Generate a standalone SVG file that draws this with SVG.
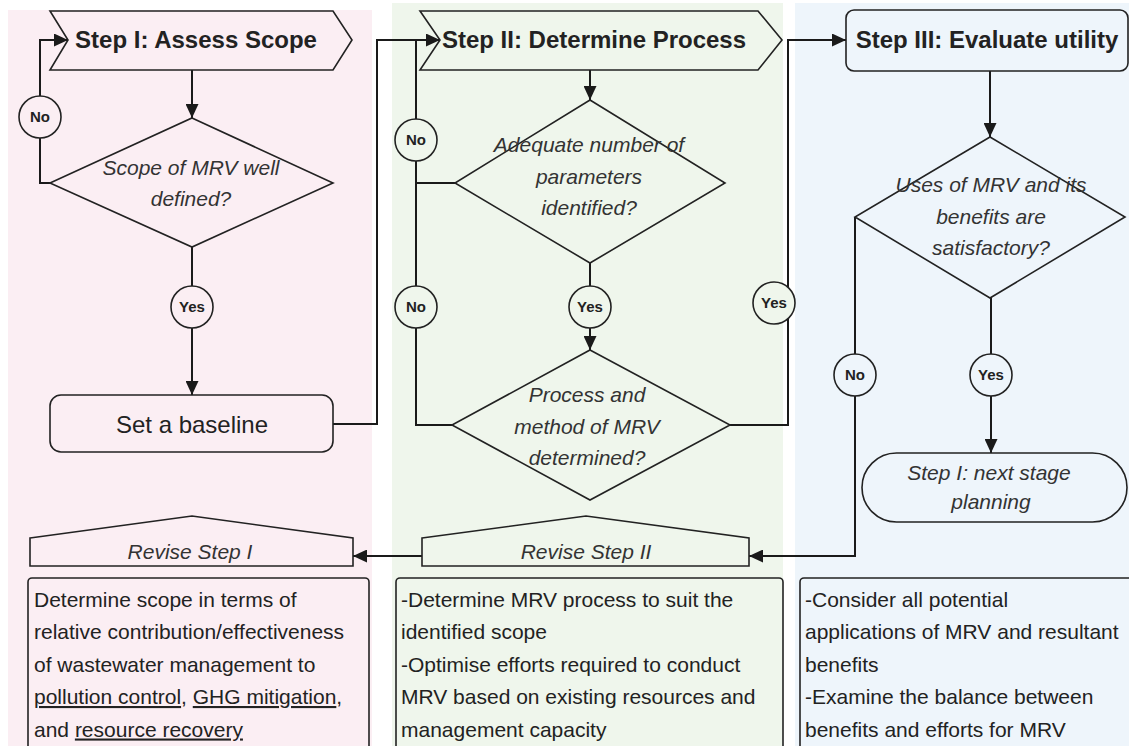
<svg xmlns="http://www.w3.org/2000/svg" width="1129" height="746" viewBox="0 0 1129 746">
<style>
.shape{fill:none;stroke:#222;stroke-width:1.6}
.conn{fill:none;stroke:#1a1a1a;stroke-width:2}
.head{font-family:"Liberation Sans",Arial,sans-serif;font-weight:bold;font-size:24px;fill:#222;text-anchor:middle}
.it{font-family:"Liberation Sans",Arial,sans-serif;font-style:italic;font-size:21px;fill:#333;text-anchor:middle}
.reg{font-family:"Liberation Sans",Arial,sans-serif;font-size:21px;fill:#222}
.big{font-family:"Liberation Sans",Arial,sans-serif;font-size:24px;fill:#222;text-anchor:middle}
.lbl{font-family:"Liberation Sans",Arial,sans-serif;font-weight:bold;font-size:15px;fill:#222;text-anchor:middle}
.circP{fill:#fbeef3;stroke:#222;stroke-width:1.6}
.circG{fill:#eff6ec;stroke:#222;stroke-width:1.6}
.circB{fill:#eef5fb;stroke:#222;stroke-width:1.6}
</style>
<defs>
<marker id="arr" markerUnits="userSpaceOnUse" markerWidth="14" markerHeight="13" refX="14" refY="6.5" orient="auto">
<path d="M0,0 L14,6.5 L0,13 z" fill="#1a1a1a"/>
</marker>
</defs>
<g id="panels">
<rect x="8" y="10" width="364" height="736" fill="#fbeef3"/>
<rect x="392" y="3" width="391" height="743" fill="#eff6ec"/>
<rect x="795" y="3" width="334" height="743" fill="#eef5fb"/>
</g>
<g id="connectors">
<path class="conn" d="M192,70 V118" marker-end="url(#arr)"/>
<path class="conn" d="M50,183 H40 V40 H68" marker-end="url(#arr)"/>
<path class="conn" d="M192,247 V395" marker-end="url(#arr)"/>
<path class="conn" d="M333,424 H377 V40 H440" marker-end="url(#arr)"/>
<path class="conn" d="M590,70 V100" marker-end="url(#arr)"/>
<path class="conn" d="M455,183 H416 V40"/>
<path class="conn" d="M452,425 H416 V183"/>
<path class="conn" d="M590,263 V350" marker-end="url(#arr)"/>
<path class="conn" d="M730,425 H788 V40 H846" marker-end="url(#arr)"/>
<path class="conn" d="M990,71 V137" marker-end="url(#arr)"/>
<path class="conn" d="M991,298 V453" marker-end="url(#arr)"/>
<path class="conn" d="M855,217 V556 H749" marker-end="url(#arr)"/>
<path class="conn" d="M422,556 H353" marker-end="url(#arr)"/>
</g>
<g id="step1">
<polygon class="shape" points="50,11 333,11 352,40 333,70 50,70 68,40"/>
<text class="head" x="196" y="48">Step I: Assess Scope</text>
</g>
<g id="decision1">
<polygon class="shape" points="192,118 333,183 192,247 50,183"/>
<text class="it" x="191" y="175">Scope of MRV well</text>
<text class="it" x="191" y="206">defined?</text>
</g>
<g id="no1">
<circle class="circP" cx="40" cy="117" r="21"/>
<text class="lbl" x="40" y="122">No</text>
</g>
<g id="yes1">
<circle class="circP" cx="192" cy="307" r="21"/>
<text class="lbl" x="192" y="312">Yes</text>
</g>
<g id="baseline">
<rect class="shape" x="50" y="395" width="283" height="57" rx="11"/>
<text class="big" x="192" y="433">Set a baseline</text>
</g>
<g id="step2">
<polygon class="shape" points="420,11 758,11 782,40 758,70 420,70 440,40"/>
<text class="head" x="594" y="48">Step II: Determine Process</text>
</g>
<g id="decision2a">
<polygon class="shape" points="590,100 725,183 590,263 455,183"/>
<text class="it" x="589" y="152">Adequate number of</text>
<text class="it" x="589" y="184">parameters</text>
<text class="it" x="589" y="215">identified?</text>
</g>
<g id="no2a">
<circle class="circG" cx="416" cy="140" r="21"/>
<text class="lbl" x="416" y="145">No</text>
</g>
<g id="no2b">
<circle class="circG" cx="416" cy="307" r="21"/>
<text class="lbl" x="416" y="312">No</text>
</g>
<g id="yes2a">
<circle class="circG" cx="590" cy="307" r="21"/>
<text class="lbl" x="590" y="312">Yes</text>
</g>
<g id="decision2b">
<polygon class="shape" points="590,350 730,425 590,500 452,425"/>
<text class="it" x="587" y="402">Process and</text>
<text class="it" x="587" y="434">method of MRV</text>
<text class="it" x="587" y="465">determined?</text>
</g>
<g id="yes2b">
<circle class="circG" cx="774" cy="303" r="21"/>
<text class="lbl" x="774" y="308">Yes</text>
</g>
<g id="step3">
<rect class="shape" x="846" y="10" width="282" height="61" rx="8"/>
<text class="head" x="987" y="48">Step III: Evaluate utility</text>
</g>
<g id="decision3">
<polygon class="shape" points="990,137 1125,217 990,298 855,217"/>
<text class="it" x="991" y="192">Uses of MRV and its</text>
<text class="it" x="991" y="224">benefits are</text>
<text class="it" x="991" y="255">satisfactory?</text>
</g>
<g id="no3">
<circle class="circB" cx="855" cy="375" r="21"/>
<text class="lbl" x="855" y="380">No</text>
</g>
<g id="yes3">
<circle class="circB" cx="991" cy="375" r="21"/>
<text class="lbl" x="991" y="380">Yes</text>
</g>
<g id="nextstage">
<rect class="shape" x="862" y="453" width="265" height="69" rx="34.5"/>
<text class="it" x="989" y="480">Step I: next stage</text>
<text class="it" x="991" y="509">planning</text>
</g>
<g id="revise1">
<polygon class="shape" points="30,538 192,516 353,538 353,566 30,566"/>
<text class="it" x="190" y="559">Revise Step I</text>
</g>
<g id="revise2">
<polygon class="shape" points="422,538 586,516 749,538 749,566 422,566"/>
<text class="it" x="586" y="559">Revise Step II</text>
</g>
<g id="note1">
<rect class="shape" x="28" y="578" width="341" height="190" rx="4"/>
<text class="reg" x="34" y="606.5">Determine scope in terms of</text>
<text class="reg" x="34" y="639">relative contribution/effectiveness</text>
<text class="reg" x="34" y="671.5">of wastewater management to</text>
<text class="reg" x="34" y="704"><tspan text-decoration="underline">pollution control</tspan>, <tspan text-decoration="underline">GHG mitigation</tspan>,</text>
<text class="reg" x="34" y="736.5">and <tspan text-decoration="underline">resource recovery</tspan></text>
</g>
<g id="note2">
<rect class="shape" x="396" y="578" width="387" height="190" rx="4"/>
<text class="reg" x="401" y="606.5">-Determine MRV process to suit the</text>
<text class="reg" x="401" y="639">identified scope</text>
<text class="reg" x="401" y="671.5">-Optimise efforts required to conduct</text>
<text class="reg" x="401" y="704">MRV based on existing resources and</text>
<text class="reg" x="401" y="736.5">management capacity</text>
</g>
<g id="note3">
<rect class="shape" x="800" y="578" width="340" height="190" rx="4"/>
<text class="reg" x="805" y="606.5">-Consider all potential</text>
<text class="reg" x="805" y="639">applications of MRV and resultant</text>
<text class="reg" x="805" y="671.5">benefits</text>
<text class="reg" x="805" y="704">-Examine the balance between</text>
<text class="reg" x="805" y="736.5">benefits and efforts for MRV</text>
</g>
</svg>
